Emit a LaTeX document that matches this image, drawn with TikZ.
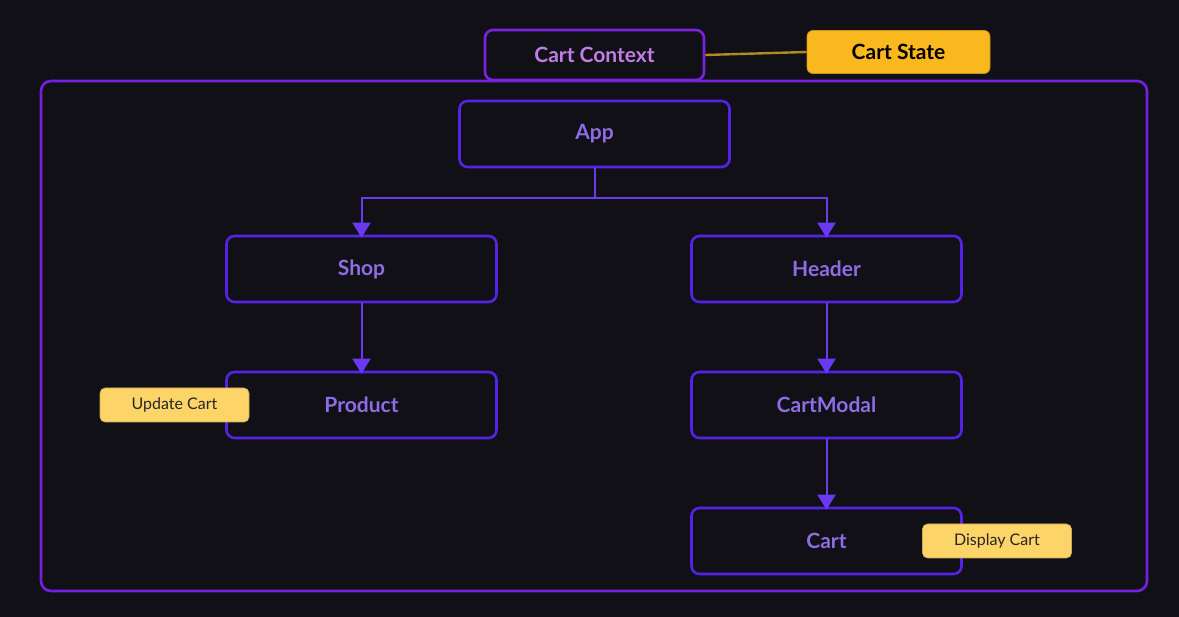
\documentclass[tikz,border=0pt]{standalone}
\usepackage{fontspec}
\setmainfont{Lato}
\usetikzlibrary{arrows.meta}
\definecolor{bg}{HTML}{111016}
\definecolor{frame}{HTML}{7320E0}
\definecolor{boxline}{HTML}{5522E6}
\definecolor{boxtext}{HTML}{8E6CE6}
\definecolor{ctxtext}{HTML}{C27EE6}
\definecolor{ctxline}{HTML}{7A22E0}
\definecolor{stateyel}{HTML}{F9B91E}
\definecolor{noteyel}{HTML}{FCD468}
\definecolor{linkyel}{HTML}{B08A22}
\definecolor{arrowc}{HTML}{6A3AF0}
\tikzset{
  comp/.style={draw=boxline, line width=2.6pt, rounded corners=8pt, minimum width=270pt, minimum height=66pt, text=boxtext, font=\fontsize{21}{24}\selectfont\bfseries, inner sep=0pt},
  ctx/.style={draw=ctxline, line width=2.6pt, rounded corners=8pt, minimum width=219pt, minimum height=50pt, text=ctxtext, font=\fontsize{21}{24}\selectfont\bfseries, inner sep=0pt},
  statebox/.style={fill=stateyel, draw=stateyel!80!black, line width=0.8pt, rounded corners=6pt, minimum width=183pt, minimum height=43pt, text=black, font=\fontsize{21}{24}\selectfont\bfseries, inner sep=0pt},
  note/.style={fill=noteyel, draw=noteyel!80!black, line width=0.6pt, rounded corners=5pt, minimum width=149pt, minimum height=34pt, text=black!85, font=\fontsize{16}{19}\selectfont, inner sep=0pt},
  conn/.style={draw=arrowc, line width=2pt},
  tip/.style={-{Triangle[width=18pt,length=15pt]}, arrowc}
}
\begin{document}
\begin{tikzpicture}[x=1pt,y=-1pt]
\useasboundingbox (0,0) rectangle (1179,617);
\fill[bg] (0,0) rectangle (1179,617);
\draw[frame, line width=2.6pt, rounded corners=10pt] (41,81) rectangle (1147,591);
\node[ctx] (ctx) at (594.5,55) {Cart Context};
\node[statebox] (state) at (898.5,52) {Cart State};
\draw[linkyel, line width=2.4pt] (ctx.east) -- (state.west);
\node[comp] (app) at (594.5,134) {App};
\node[comp] (shop) at (361.5,269) {Shop};
\node[comp] (header) at (826.5,269) {Header};
\node[comp] (product) at (361.5,405) {Product};
\node[comp] (modal) at (826.5,405) {CartModal};
\node[comp] (cart) at (826.5,541) {Cart};
\node[note] (update) at (174.5,405) {Update Cart};
\node[note] (display) at (997,541) {Display Cart};
\coordinate (j) at (594.5,198);
\draw[conn] (app.south) -- (j);
\draw[conn, tip] (j) -| ([yshift=-3pt]shop.north);
\draw[conn, tip] (j) -| ([yshift=-3pt]header.north);
\draw[conn, tip] (shop.south) -- ([yshift=-3pt]product.north);
\draw[conn, tip] (header.south) -- ([yshift=-3pt]modal.north);
\draw[conn, tip] (modal.south) -- ([yshift=-3pt]cart.north);
\end{tikzpicture}
\end{document}
